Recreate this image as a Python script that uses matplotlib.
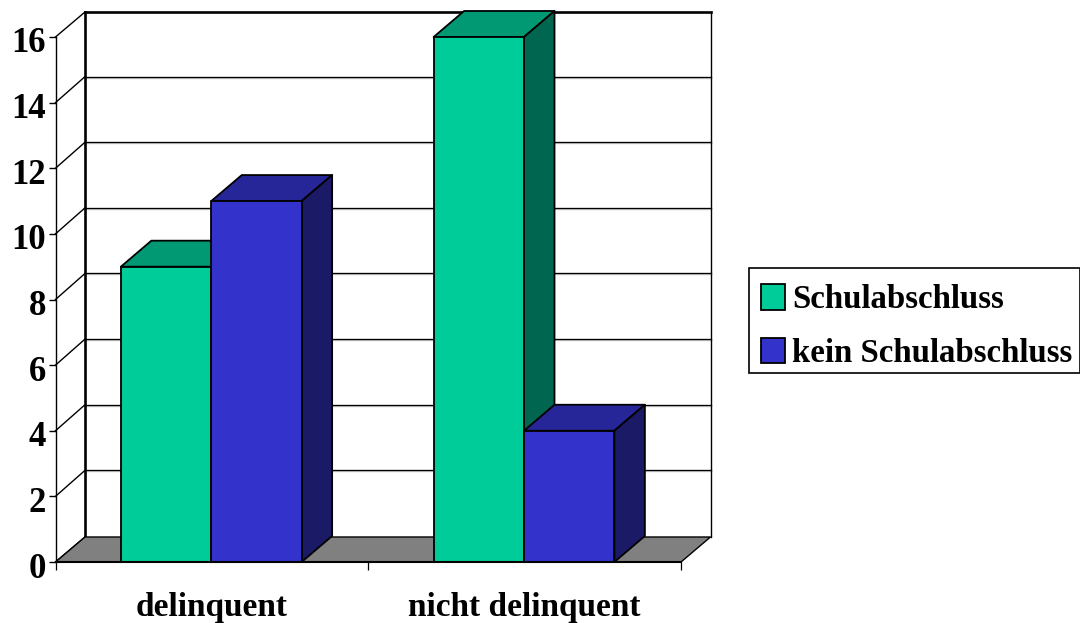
import matplotlib
matplotlib.use('Agg')
import matplotlib.pyplot as plt
from matplotlib.patches import Patch, Polygon, Rectangle
from matplotlib.transforms import ScaledTranslation

plt.rcParams['font.family'] = ['Liberation Serif', 'DejaVu Serif']
plt.rcParams['font.weight'] = 'bold'

categories = ['delinquent', 'nicht delinquent']
schulabschluss = [9, 16]
kein_schulabschluss = [11, 4]
y_ticks = [0, 2, 4, 6, 8, 10, 12, 14, 16]

W, H = 1080, 623
fig = plt.figure(figsize=(W / 100, H / 100), dpi=100, facecolor='white')
# the axes is the front plane of the 3d box
ax = fig.add_axes([55.5 / W, 1 - 562 / H, (681 - 55.5) / W, (562 - 37) / H])
ax.set_xlim(0, 2)
ax.set_ylim(0, 16)
ax.patch.set_visible(False)

# depth of box and bars, in data units
wall_dx, wall_dy = 29.5 / 312.75, 25 / 32.8
grid_dy = 26 / 32.8
bar_dx, bar_dy = 30.5 / 312.75, 26 / 32.8
bar_w = 0.289
bar_start = 0.209


def poly(pts, color, z, lw=1.3, ec='black'):
    ax.add_patch(Polygon(pts, closed=True, facecolor=color, edgecolor=ec,
                         linewidth=lw, zorder=z, clip_on=False, joinstyle='round'))


def line(xs, ys, lw, z=1, color='black'):
    ax.plot(xs, ys, color=color, lw=lw, zorder=z, clip_on=False, solid_capstyle='projecting')


# back wall grid and side wall diagonals
for t in y_ticks:
    top = t + (wall_dy if t in (0, 16) else grid_dy)
    if t not in (0, 16):
        line([wall_dx, 2 + wall_dx], [top - 0.03, top - 0.03], 1.7, z=1, color='#c4c4c4')
        line([wall_dx, 2 + wall_dx], [top, top], 0.9, z=1.1)
    line([0, wall_dx], [t, top], 1.0, z=1.2)
line([wall_dx, 2 + wall_dx], [16 + wall_dy, 16 + wall_dy], 1.9, z=1.3)
line([wall_dx, wall_dx], [wall_dy, 16 + wall_dy], 1.9, z=1.3)
line([2 + wall_dx, 2 + wall_dx], [wall_dy, 16 + wall_dy], 1.0, z=1.3)

# floor
poly([(0, 0), (2, 0), (2 + wall_dx, wall_dy), (wall_dx, wall_dy)], '#808080', 2, lw=1.0)


def bar3d(x, v, front, side, topc, z):
    poly([(x, v), (x + bar_w, v), (x + bar_w + bar_dx, v + bar_dy), (x + bar_dx, v + bar_dy)], topc, z)
    poly([(x + bar_w, 0), (x + bar_w + bar_dx, bar_dy), (x + bar_w + bar_dx, v + bar_dy), (x + bar_w, v)], side, z)
    poly([(x, 0), (x + bar_w, 0), (x + bar_w, v), (x, v)], front, z + 0.1)


for i in range(len(categories)):
    x0 = i + bar_start
    bar3d(x0, schulabschluss[i], '#00cc99', '#006650', '#009973', 3 + i)
    bar3d(x0 + bar_w, kein_schulabschluss[i], '#3333cc', '#1a1a66', '#262699', 3.5 + i)

# axes
for s in ('top', 'right'):
    ax.spines[s].set_visible(False)
ax.spines['left'].set_linewidth(1.0)
ax.spines['bottom'].set_linewidth(1.5)
ax.spines['bottom'].set_zorder(6)
ax.set_yticks(y_ticks)
ax.set_yticklabels([str(t) for t in y_ticks])
ax.tick_params(axis='y', length=5.4, width=1.0, labelsize=25, pad=1.5)
# numbers sit a little under their ticks
nudge = ScaledTranslation(0, -3 / 100, fig.dpi_scale_trans)
for lab in ax.get_yticklabels():
    lab.set_transform(lab.get_transform() + nudge)
ax.set_xticks([0, 1, 2])
ax.set_xticklabels([])
ax.tick_params(axis='x', which='major', length=5.5, width=0.9)
ax.set_xticks([0.5, 1.5], minor=True)
ax.set_xticklabels(categories, minor=True)
ax.tick_params(axis='x', which='minor', length=0, labelsize=24, pad=21.5)

# legend box is separate, the entries sit low inside it
fig.add_artist(Rectangle((749 / W, 1 - 373 / H), 331 / W, 105 / H, transform=fig.transFigure,
                         facecolor='white', edgecolor='black', linewidth=1.2))
handles = [Patch(facecolor='#00cc99', edgecolor='black', linewidth=1.3),
           Patch(facecolor='#3333cc', edgecolor='black', linewidth=1.3)]
leg = fig.legend(handles, ['Schulabschluss', 'kein Schulabschluss'],
                 loc='lower left', bbox_to_anchor=(749 / W, 1 - 381 / H),
                 bbox_transform=fig.transFigure, borderaxespad=0,
                 prop={'size': 23.7, 'weight': 'bold', 'family': 'Liberation Serif'},
                 handlelength=0.72, handleheight=0.8, handletextpad=0.22,
                 labelspacing=0.69, borderpad=0.36, frameon=False)

fig.savefig('out.png', dpi=100)
